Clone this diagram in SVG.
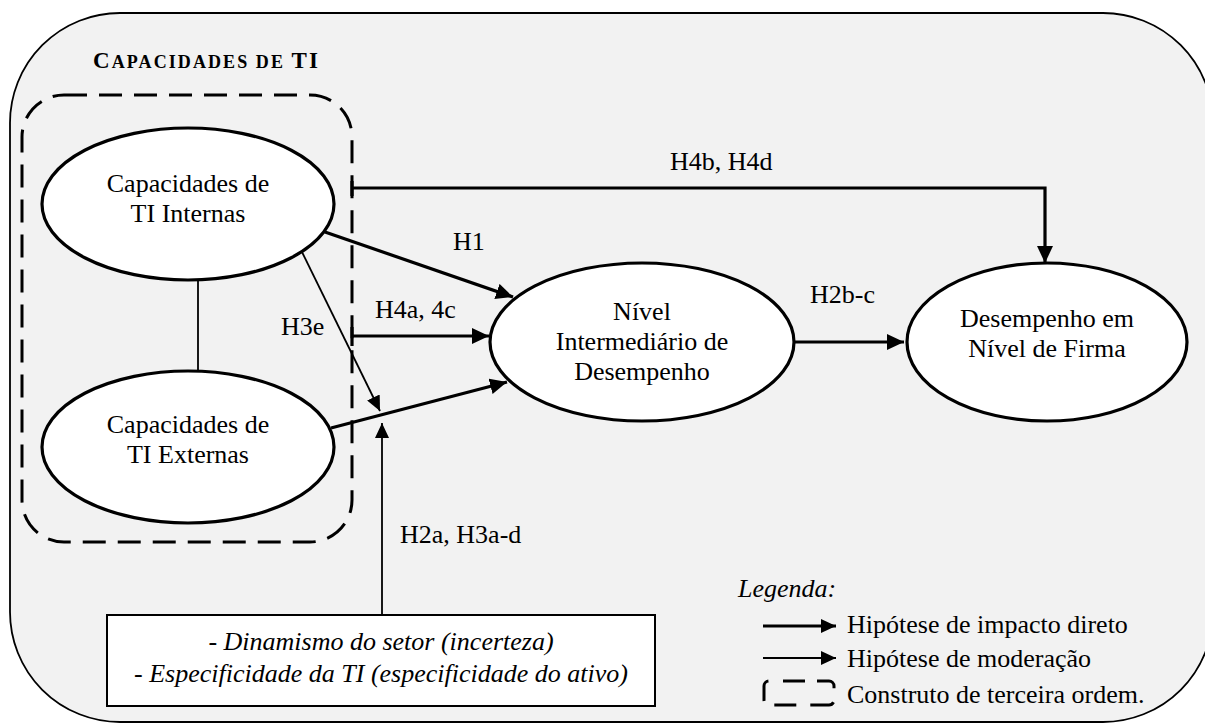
<svg xmlns="http://www.w3.org/2000/svg" width="1205" height="724" viewBox="0 0 1205 724">
<defs>
<style>
text{font-family:"Liberation Serif","Times New Roman",serif;font-size:26px;fill:#000}
.it{font-style:italic}
.node{fill:#fff;stroke:#000;stroke-width:3.2}
.thick{stroke:#000;stroke-width:3.2;fill:none}
.thin{stroke:#000;stroke-width:1.8;fill:none}
.dash{fill:none;stroke:#000;stroke-width:3;stroke-dasharray:23 12}
</style>
<marker id="ah" markerUnits="userSpaceOnUse" markerWidth="18" markerHeight="16" refX="17" refY="8" orient="auto">
<path d="M0,0 L17,8 L0,16 z" fill="#000"/>
</marker>
<marker id="ahs" markerUnits="userSpaceOnUse" markerWidth="16" markerHeight="14" refX="15" refY="7" orient="auto">
<path d="M0,0 L15,7 L0,14 z" fill="#000"/>
</marker>
</defs>
<rect x="10" y="13" width="1203" height="709" rx="110" ry="110" fill="#f2f2f2" stroke="#000" stroke-width="1.8"/>
<g id="construct">
<text x="93" y="68" font-weight="bold" textLength="225" lengthAdjust="spacing"><tspan font-size="23">C</tspan><tspan font-size="18">APACIDADES DE </tspan><tspan font-size="23">TI</tspan></text>
<rect x="22" y="95" width="330" height="447" rx="42" ry="42" class="dash"/>
</g>
<g id="connectors">
<line x1="198" y1="279" x2="198" y2="372" class="thin" stroke-width="1.6"/>
<polyline points="352,188 1045,188 1045,263" class="thick" marker-end="url(#ah)"/>
<line x1="352" y1="181" x2="352" y2="196" class="thick"/>
<line x1="325" y1="232" x2="513" y2="297" class="thick" marker-end="url(#ah)"/>
<line x1="302" y1="252" x2="380" y2="411" class="thin" marker-end="url(#ahs)"/>
<line x1="352" y1="336" x2="489" y2="336" class="thick" marker-end="url(#ah)"/>
<line x1="352" y1="327" x2="352" y2="346" class="thick"/>
<line x1="331" y1="428" x2="507" y2="382" class="thick" marker-end="url(#ah)"/>
<line x1="382" y1="615" x2="382" y2="423" class="thin" stroke-width="2" marker-end="url(#ahs)"/>
<line x1="794" y1="342" x2="904" y2="342" class="thick" marker-end="url(#ah)"/>
<text x="670" y="170">H4b, H4d</text>
<text x="453" y="250">H1</text>
<text x="375" y="318">H4a, 4c</text>
<text x="281" y="335">H3e</text>
<text x="400" y="543">H2a, H3a-d</text>
<text x="810" y="303">H2b-c</text>
</g>
<g id="internas">
<ellipse cx="188" cy="204" rx="146" ry="76" class="node"/>
<text x="188" y="192" text-anchor="middle">Capacidades de</text>
<text x="188" y="222" text-anchor="middle">TI Internas</text>
</g>
<g id="externas">
<ellipse cx="188" cy="447" rx="146" ry="76" class="node"/>
<text x="188" y="433" text-anchor="middle">Capacidades de</text>
<text x="188" y="463" text-anchor="middle">TI Externas</text>
</g>
<g id="nivel">
<ellipse cx="642" cy="342" rx="152" ry="79" class="node"/>
<text x="642" y="320" text-anchor="middle">Nível</text>
<text x="642" y="350" text-anchor="middle">Intermediário de</text>
<text x="642" y="380" text-anchor="middle">Desempenho</text>
</g>
<g id="firma">
<ellipse cx="1047" cy="342" rx="140" ry="79" class="node"/>
<text x="1047" y="327" text-anchor="middle">Desempenho em</text>
<text x="1047" y="357" text-anchor="middle">Nível de Firma</text>
</g>
<g id="moderadores">
<rect x="107" y="615" width="548" height="91" fill="#fff" stroke="#000" stroke-width="2"/>
<text x="381" y="650" text-anchor="middle" class="it">- Dinamismo do setor (incerteza)</text>
<text x="381" y="682" text-anchor="middle" class="it">- Especificidade da TI (especificidade do ativo)</text>
</g>
<g id="legenda">
<text x="738" y="597" class="it">Legenda:</text>
<line x1="763" y1="626" x2="836" y2="626" class="thick" marker-end="url(#ahs)"/>
<line x1="763" y1="658" x2="836" y2="658" class="thin" marker-end="url(#ahs)"/>
<rect x="764" y="681" width="70" height="24" rx="5" ry="5" fill="none" stroke="#000" stroke-width="3" stroke-dasharray="0 14 22 12 22 14 24 14 22 12 22 14"/>
<text x="847" y="633">Hipótese de impacto direto</text>
<text x="847" y="667">Hipótese de moderação</text>
<text x="847" y="703">Construto de terceira ordem.</text>
</g>
</svg>
